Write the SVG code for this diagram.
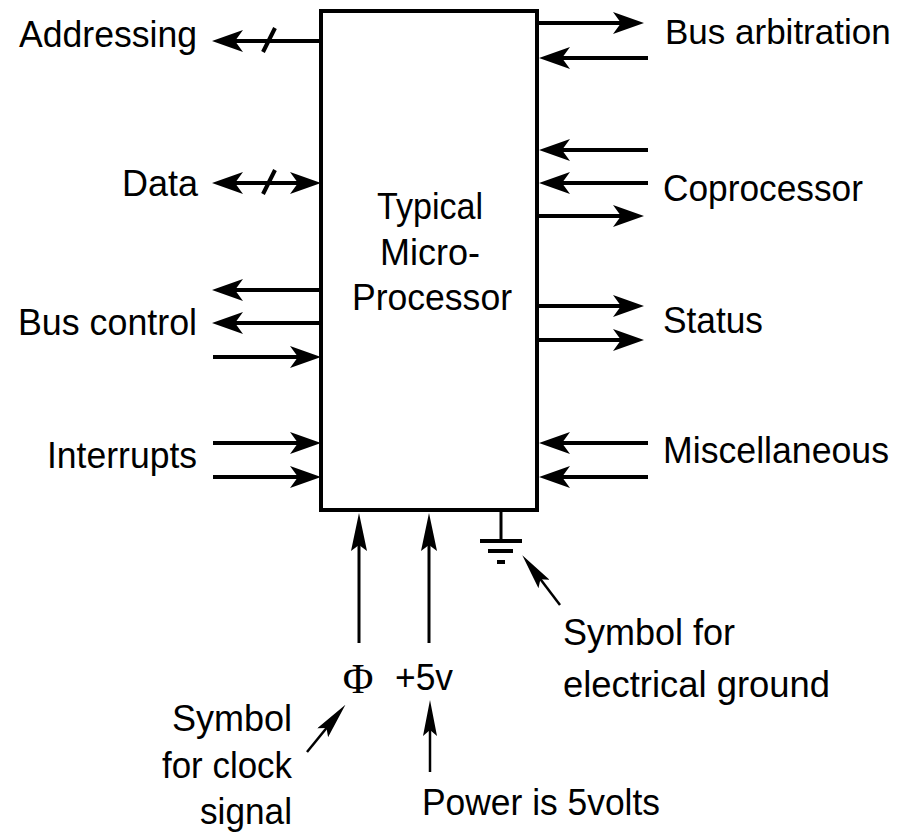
<svg xmlns="http://www.w3.org/2000/svg" width="899" height="839" viewBox="0 0 899 839">
<style>
.t{font-family:"Liberation Sans",Arial,sans-serif;font-size:37px;fill:#000}
.n{font-size:35px}
.s{font-family:"Liberation Serif","Times New Roman",serif;font-size:42px;fill:#000}
.w{stroke:#000;stroke-width:4;fill:none}
.p{stroke:#000;stroke-width:3;fill:none}
.q{stroke:#000;stroke-width:2.5;fill:none}
</style>
<defs>
<marker id="a" markerUnits="userSpaceOnUse" viewBox="0 -11 31 22" markerWidth="31" markerHeight="22" refX="10" refY="0" orient="auto-start-reverse">
<path d="M0,-11 L31,0 L0,11 L8,0 Z" fill="#000"/>
</marker>
<marker id="b" markerUnits="userSpaceOnUse" viewBox="0 -8 38 16" markerWidth="38" markerHeight="16" refX="10" refY="0" orient="auto">
<path d="M0,-8 L38,0 L0,8 L6,0 Z" fill="#000"/>
</marker>
<marker id="c" markerUnits="userSpaceOnUse" viewBox="0 -7 36 14" markerWidth="36" markerHeight="14" refX="10" refY="0" orient="auto">
<path d="M0,-7 L36,0 L0,7 L6,0 Z" fill="#000"/>
</marker>
</defs>

<g id="processor">
<rect x="321" y="11" width="216" height="499" class="w"/>
<text class="t" x="430" y="219" text-anchor="middle" textLength="106" lengthAdjust="spacingAndGlyphs">Typical</text>
<text class="t" x="430" y="265" text-anchor="middle" textLength="100" lengthAdjust="spacingAndGlyphs">Micro-</text>
<text class="t" x="432" y="310" text-anchor="middle" textLength="160" lengthAdjust="spacingAndGlyphs">Processor</text>
</g>

<g id="connectors">
<line x1="321" y1="41" x2="233" y2="41" class="w" marker-end="url(#a)"/>
<line x1="263" y1="52" x2="275" y2="28" class="w"/>
<line x1="233" y1="183" x2="300" y2="183" class="w" marker-start="url(#a)" marker-end="url(#a)"/>
<line x1="263" y1="194" x2="275" y2="170" class="w"/>
<line x1="321" y1="290" x2="233" y2="290" class="w" marker-end="url(#a)"/>
<line x1="321" y1="323" x2="233" y2="323" class="w" marker-end="url(#a)"/>
<line x1="213" y1="357" x2="300" y2="357" class="w" marker-end="url(#a)"/>
<line x1="213" y1="443" x2="300" y2="443" class="w" marker-end="url(#a)"/>
<line x1="213" y1="477" x2="300" y2="477" class="w" marker-end="url(#a)"/>
<line x1="537" y1="23" x2="623" y2="23" class="w" marker-end="url(#a)"/>
<line x1="648" y1="58" x2="560" y2="58" class="w" marker-end="url(#a)"/>
<line x1="648" y1="150" x2="560" y2="150" class="w" marker-end="url(#a)"/>
<line x1="648" y1="183" x2="560" y2="183" class="w" marker-end="url(#a)"/>
<line x1="537" y1="216" x2="623" y2="216" class="w" marker-end="url(#a)"/>
<line x1="537" y1="306" x2="623" y2="306" class="w" marker-end="url(#a)"/>
<line x1="537" y1="340" x2="623" y2="340" class="w" marker-end="url(#a)"/>
<line x1="648" y1="443" x2="560" y2="443" class="w" marker-end="url(#a)"/>
<line x1="648" y1="477" x2="560" y2="477" class="w" marker-end="url(#a)"/>
<line x1="359" y1="643" x2="359" y2="541" class="p" marker-end="url(#b)"/>
<line x1="429" y1="643" x2="429" y2="541" class="p" marker-end="url(#b)"/>
<line x1="307" y1="752" x2="329" y2="725" class="q" marker-end="url(#c)"/>
<line x1="430" y1="772" x2="430" y2="726" class="q" marker-end="url(#c)"/>
<line x1="560" y1="605" x2="538" y2="576" class="q" marker-end="url(#c)"/>
</g>

<g id="ground">
<line x1="501" y1="510" x2="501" y2="541" class="p"/>
<line x1="480" y1="541" x2="522" y2="541" class="w"/>
<line x1="488" y1="551" x2="513" y2="551" class="w"/>
<line x1="497" y1="562" x2="505" y2="562" class="w"/>
</g>

<g id="labels">
<text class="t" x="197" y="47" text-anchor="end" textLength="178" lengthAdjust="spacingAndGlyphs">Addressing</text>
<text class="t" x="198" y="196" text-anchor="end" textLength="76" lengthAdjust="spacingAndGlyphs">Data</text>
<text class="t" x="197" y="335" text-anchor="end" textLength="179" lengthAdjust="spacingAndGlyphs">Bus control</text>
<text class="t" x="197" y="468" text-anchor="end" textLength="150" lengthAdjust="spacingAndGlyphs">Interrupts</text>
<text class="t n" x="665" y="44">Bus arbitration</text>
<text class="t" x="663" y="201" textLength="200" lengthAdjust="spacingAndGlyphs">Coprocessor</text>
<text class="t" x="663" y="333" textLength="100" lengthAdjust="spacingAndGlyphs">Status</text>
<text class="t" x="663" y="463" textLength="226" lengthAdjust="spacingAndGlyphs">Miscellaneous</text>
<text class="s" x="358" y="693" text-anchor="middle">Φ</text>
<text class="t" x="395" y="690" textLength="58" lengthAdjust="spacingAndGlyphs">+5v</text>
<text class="t" x="292" y="731" text-anchor="end" textLength="120" lengthAdjust="spacingAndGlyphs">Symbol</text>
<text class="t" x="292" y="778" text-anchor="end" textLength="130" lengthAdjust="spacingAndGlyphs">for clock</text>
<text class="t" x="292" y="824" text-anchor="end" textLength="92" lengthAdjust="spacingAndGlyphs">signal</text>
<text class="t" x="563" y="645" textLength="172" lengthAdjust="spacingAndGlyphs">Symbol for</text>
<text class="t" x="563" y="697" textLength="267" lengthAdjust="spacingAndGlyphs">electrical ground</text>
<text class="t" x="422" y="815" textLength="238" lengthAdjust="spacingAndGlyphs">Power is 5volts</text>
</g>
</svg>
